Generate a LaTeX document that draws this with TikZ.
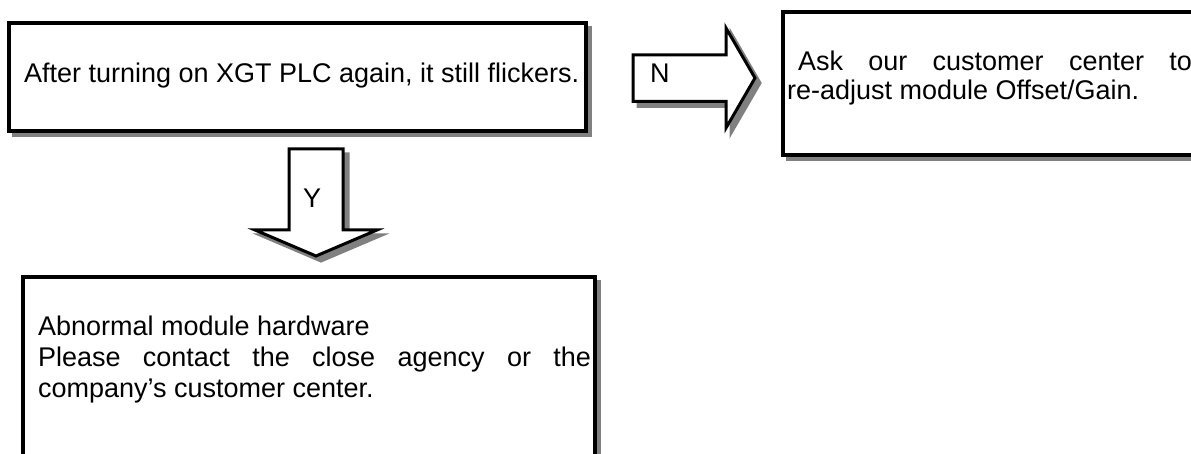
\documentclass[tikz,border=0pt]{standalone}
\usepackage{fontspec}
\setmainfont{Liberation Sans}
\definecolor{shadowgray}{HTML}{808080}
\pgfdeclarelayer{background}
\pgfsetlayers{background,main}
\tikzset{
  box/.style={draw=black, line width=3.5pt, fill=white, outer sep=0pt, inner sep=0pt, anchor=north west},
  shadowbox/.style={draw=shadowgray, fill=shadowgray, line width=3.5pt},
  blockarrow/.style={draw=black, fill=white, line width=3pt, line join=miter},
  arrowshadow/.style={draw=shadowgray, fill=shadowgray, line width=3pt, line join=miter},
  txt/.style={inner sep=0pt, outer sep=0pt, anchor=base west, font=\fontsize{27pt}{31pt}\selectfont},
}
\begin{document}
\begin{tikzpicture}[x=1pt,y=-1pt]
\useasboundingbox (0,0) rectangle (1191,454);

% boxes
\node[box, minimum width=577pt, minimum height=108pt] (b1) at (9,23) {};
\node[box, minimum width=430pt, minimum height=143pt] (b2) at (783,12) {};
\node[box, minimum width=572pt, minimum height=210pt] (b3) at (23,277) {};

\begin{pgfonlayer}{background}
\foreach \n in {b1,b2,b3}
  \draw[shadowbox] ([shift={(4.5,4.5)}]\n.north west) rectangle ([shift={(4.5,4.5)}]\n.south east);
\end{pgfonlayer}

% Y block arrow (down)
\begin{scope}[shift={(5,5)}]
\draw[arrowshadow] (289,149) -- (343,149) -- (343,230) -- (377,230) -- (316,256) -- (255,230) -- (289,230) -- cycle;
\end{scope}
\draw[blockarrow] (289,149) -- (343,149) -- (343,230) -- (377,230) -- (316,256) -- (255,230) -- (289,230) -- cycle;

% N block arrow (right)
\begin{scope}[shift={(5,5)}]
\draw[arrowshadow] (633,55) -- (726,55) -- (726,28) -- (755,78) -- (726,128) -- (726,101.5) -- (633,101.5) -- cycle;
\end{scope}
\draw[blockarrow] (633,55) -- (726,55) -- (726,28) -- (755,78) -- (726,128) -- (726,101.5) -- (633,101.5) -- cycle;

% labels
\node[txt, anchor=base] (ylbl) at (312,208) {Y};
\node[txt] (nlbl) at (650,83) {N};

% texts
\node[txt] (t1) at (24,83) {After turning on XGT PLC again, it still flickers.};

\node[txt] (t2a) at (787,71) {\hspace*{11pt}\makebox[394pt][s]{Ask our customer center to}};
\node[txt] (t2b) at (787,100) {re-adjust module Offset/Gain.};

\node[txt] (t3a) at (38,335) {Abnormal module hardware};
\node[txt] (t3b) at (38,366) {\makebox[553pt][s]{Please contact the close agency or the}};
\node[txt] (t3c) at (38,397) {company’s customer center.};
\end{tikzpicture}
\end{document}
